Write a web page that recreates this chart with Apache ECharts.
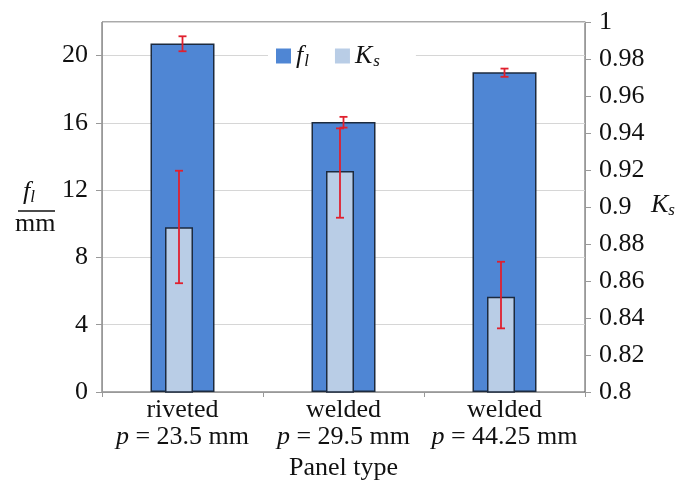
<!DOCTYPE html>
<html>
<head>
<meta charset="utf-8">
<script src="https://cdn.jsdelivr.net/npm/echarts@6/dist/echarts.min.js"></script>
<style>
  html, body { margin: 0; padding: 0; background: #fff; }
  #main { width: 680px; height: 485px; }
</style>
</head>
<body>
<div id="main"></div>
<script>
const panelTypes = ['riveted', 'welded', 'welded'];
const pitches = ['23.5', '29.5', '44.25'];

const flValues = [20.72, 16.06, 19.01];
const flErrLow = [20.26, 15.72, 18.74];
const flErrHigh = [21.15, 16.36, 19.23];

const ksValues = [0.889, 0.9195, 0.8515];
const ksErrLow = [0.8588, 0.8942, 0.8344];
const ksErrHigh = [0.9196, 0.9425, 0.8704];

const leftTicks = { min: 0, max: 22, interval: 4 };
const rightTicks = { min: 0.8, max: 1, interval: 0.02 };

const chartDom = document.getElementById('main');
const myChart = echarts.init(chartDom);

const serif = 'Liberation Serif';
const red = '#e0202e';
const cats = panelTypes.map((t, i) => 'c' + i);

function errorItem(params, api) {
  const x = api.value(0);
  const lo = api.coord([x, api.value(1)]);
  const hi = api.coord([x, api.value(2)]);
  const w = 4;
  const style = { stroke: red, lineWidth: 1.8 };
  return {
    type: 'group',
    children: [
      { type: 'line', shape: { x1: lo[0], y1: lo[1], x2: hi[0], y2: hi[1] }, style: style },
      { type: 'line', shape: { x1: lo[0] - w, y1: lo[1], x2: lo[0] + w, y2: lo[1] }, style: style },
      { type: 'line', shape: { x1: hi[0] - w, y1: hi[1], x2: hi[0] + w, y2: hi[1] }, style: style }
    ]
  };
}

let option = {
  animation: false,
  textStyle: { fontFamily: serif },
  grid: [
    { left: 102, right: 95, top: 22, bottom: 93, show: true, borderColor: '#555', borderWidth: 1, outerBoundsMode: 'none', containLabel: false },
    { left: 98.5, right: 98.5, top: 22, bottom: 93, outerBoundsMode: 'none', containLabel: false }
  ],
  legend: {
    left: 268,
    top: 37,
    itemGap: 26,
    itemWidth: 15,
    itemHeight: 15,
    icon: 'rect',
    padding: [6, 36, 6, 8],
    backgroundColor: '#fff',
    itemStyle: { borderWidth: 0 },
    data: ['fl', 'Ks'],
    formatter: function (name) {
      return name === 'fl' ? '{i|f}{s|l}' : '{i|K}{s|s}';
    },
    textStyle: {
      rich: {
        i: { fontFamily: serif, fontStyle: 'italic', fontSize: 26, color: '#111' },
        s: { fontFamily: serif, fontStyle: 'italic', fontSize: 17, color: '#111', padding: [12, 0, 0, 1] }
      }
    }
  },
  xAxis: [
    {
      type: 'category',
      gridIndex: 0,
      data: cats,
      axisLine: { lineStyle: { color: '#999' } },
      axisTick: { show: true, length: 5, lineStyle: { color: '#999' } },
      axisLabel: {
        margin: 5,
        formatter: function (v, i) {
          return '{t|' + panelTypes[i] + '}\n{p|p}{t| = ' + pitches[i] + ' mm}';
        },
        rich: {
          t: { fontFamily: serif, fontSize: 26, color: '#111', lineHeight: 27 },
          p: { fontFamily: serif, fontStyle: 'italic', fontSize: 26, color: '#111', lineHeight: 27 }
        }
      },
      name: 'Panel type',
      nameLocation: 'middle',
      nameGap: 63,
      nameTextStyle: { fontFamily: serif, fontSize: 26, color: '#111' }
    },
    {
      type: 'category',
      gridIndex: 1,
      data: cats,
      show: false
    }
  ],
  yAxis: [
    {
      type: 'value',
      gridIndex: 0,
      position: 'left',
      min: leftTicks.min,
      max: leftTicks.max,
      interval: leftTicks.interval,
      axisLine: { show: true, lineStyle: { color: '#999' } },
      axisTick: { show: true, length: 6, lineStyle: { color: '#999' } },
      axisLabel: { margin: 14, fontFamily: serif, fontSize: 26, color: '#111', showMaxLabel: false },
      splitLine: { lineStyle: { color: '#d6d6d6', width: 1.2 } }
    },
    {
      type: 'value',
      gridIndex: 0,
      position: 'right',
      min: rightTicks.min,
      max: rightTicks.max,
      interval: rightTicks.interval,
      axisLine: { show: true, lineStyle: { color: '#999' } },
      axisTick: { show: true, length: 6, lineStyle: { color: '#999' } },
      axisLabel: { margin: 14, fontFamily: serif, fontSize: 26, color: '#111' },
      splitLine: { show: false }
    },
    {
      type: 'value',
      gridIndex: 1,
      min: rightTicks.min,
      max: rightTicks.max,
      show: false,
      splitLine: { show: false }
    }
  ],
  graphic: [
    {
      type: 'text',
      left: 23,
      top: 179,
      style: {
        text: '{i|f}{s|l}',
        rich: {
          i: { fontFamily: serif, fontStyle: 'italic', fontSize: 26, fill: '#111' },
          s: { fontFamily: serif, fontStyle: 'italic', fontSize: 17, fill: '#111', padding: [12, 0, 0, 0] }
        }
      }
    },
    {
      type: 'line',
      shape: { x1: 18, y1: 211, x2: 55, y2: 211 },
      style: { stroke: '#111', lineWidth: 1.5 }
    },
    {
      type: 'text',
      left: 15,
      top: 211,
      style: { text: 'mm', font: '26px "Liberation Serif"', fill: '#111' }
    },
    {
      type: 'text',
      left: 651,
      top: 192,
      style: {
        text: '{i|K}{s|s}',
        rich: {
          i: { fontFamily: serif, fontStyle: 'italic', fontSize: 26, fill: '#111' },
          s: { fontFamily: serif, fontStyle: 'italic', fontSize: 17, fill: '#111', padding: [12, 0, 0, 0] }
        }
      }
    }
  ],
  series: [
    {
      name: 'fl',
      type: 'bar',
      xAxisIndex: 0,
      yAxisIndex: 0,
      barWidth: 64,
      z: 2,
      itemStyle: { color: '#4f86d4', borderColor: '#1c2a3e', borderWidth: 1.5 },
      data: flValues
    },
    {
      name: 'flErr',
      type: 'custom',
      xAxisIndex: 0,
      yAxisIndex: 0,
      z: 5,
      renderItem: errorItem,
      data: flValues.map((v, i) => [i, flErrLow[i], flErrHigh[i]])
    },
    {
      name: 'Ks',
      type: 'bar',
      xAxisIndex: 1,
      yAxisIndex: 2,
      barWidth: 28,
      z: 3,
      itemStyle: { color: '#b9cde6', borderColor: '#1c2a3e', borderWidth: 1.5 },
      data: ksValues
    },
    {
      name: 'KsErr',
      type: 'custom',
      xAxisIndex: 1,
      yAxisIndex: 2,
      z: 5,
      renderItem: errorItem,
      data: ksValues.map((v, i) => [i, ksErrLow[i], ksErrHigh[i]])
    }
  ]
};

myChart.setOption(option);
</script>
</body>
</html>
